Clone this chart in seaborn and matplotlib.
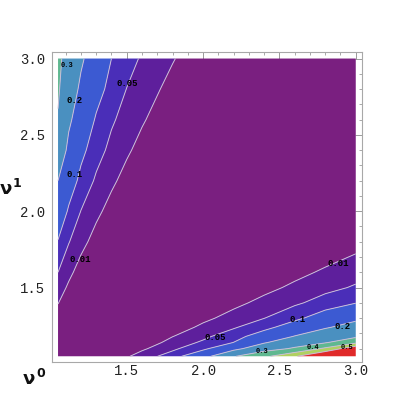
import numpy as np
import matplotlib
matplotlib.use("Agg")
import matplotlib.pyplot as plt
import seaborn as sns
from matplotlib.ticker import MultipleLocator, FormatStrFormatter

# grid of nu0 (columns) and nu1 (rows)
nu0 = [1.05, 1.12, 1.2, 1.3, 1.4, 1.5, 1.6, 1.8, 2.0, 2.2, 2.4, 2.6, 2.8, 3.0]
nu1 = [1.05, 1.10, 1.14, 1.18, 1.24, 1.30, 1.40, 1.50, 1.60, 1.80, 2.00, 2.20, 2.40, 2.60, 2.80, 3.00]

# values estimated from the contour picture (rows follow nu1)
z = [
    [-0.04, -0.04, -0.04, -0.04, -0.026, 0.005, 0.028, 0.071, 0.168, 0.293, 0.377, 0.487, 0.632, 0.700],
    [-0.04, -0.04, -0.04, -0.04, -0.04, -0.024, 0.003, 0.041, 0.084, 0.175, 0.259, 0.312, 0.418, 0.575],
    [-0.04, -0.04, -0.04, -0.04, -0.04, -0.04, -0.017, 0.025, 0.057, 0.101, 0.193, 0.254, 0.292, 0.380],
    [-0.04, -0.04, -0.04, -0.04, -0.04, -0.04, -0.037, 0.009, 0.040, 0.076, 0.136, 0.204, 0.252, 0.283],
    [-0.037, -0.04, -0.04, -0.04, -0.04, -0.04, -0.04, -0.015, 0.020, 0.045, 0.081, 0.135, 0.192, 0.233],
    [-0.015, -0.04, -0.04, -0.04, -0.04, -0.04, -0.04, -0.04, -0.001, 0.027, 0.049, 0.085, 0.134, 0.183],
    [0.012, -0.023, -0.04, -0.04, -0.04, -0.04, -0.04, -0.04, -0.035, -0.002, 0.023, 0.042, 0.069, 0.098],
    [0.034, 0.002, -0.034, -0.04, -0.04, -0.04, -0.04, -0.04, -0.04, -0.031, -0.003, 0.019, 0.037, 0.055],
    [0.050, 0.022, -0.010, -0.04, -0.04, -0.04, -0.04, -0.04, -0.04, -0.04, -0.028, -0.003, 0.017, 0.033],
    [0.096, 0.052, 0.025, -0.008, -0.04, -0.04, -0.04, -0.04, -0.04, -0.04, -0.04, -0.04, -0.025, -0.005],
    [0.156, 0.091, 0.049, 0.021, -0.007, -0.035, -0.04, -0.04, -0.04, -0.04, -0.04, -0.04, -0.04, -0.04],
    [0.200, 0.138, 0.083, 0.043, 0.019, -0.006, -0.030, -0.04, -0.04, -0.04, -0.04, -0.04, -0.04, -0.04],
    [0.270, 0.178, 0.117, 0.068, 0.038, 0.017, -0.005, -0.04, -0.04, -0.04, -0.04, -0.04, -0.04, -0.04],
    [0.295, 0.215, 0.155, 0.093, 0.056, 0.034, 0.015, -0.023, -0.04, -0.04, -0.04, -0.04, -0.04, -0.04],
    [0.309, 0.248, 0.185, 0.125, 0.080, 0.049, 0.031, -0.004, -0.038, -0.04, -0.04, -0.04, -0.04, -0.04],
    [0.317, 0.268, 0.212, 0.155, 0.100, 0.070, 0.044, 0.013, -0.019, -0.04, -0.04, -0.04, -0.04, -0.04],
]

levels = [0.01, 0.05, 0.1, 0.2, 0.3, 0.4, 0.5]
band_colors = ["#7A1F80", "#5E1F9C", "#4A2EB8", "#3C5AD2",
               "#4A90C0", "#5FB890", "#B0D060", "#E02A2A"]

# contour labels (text, nu0, nu1, small?)
label_text = ["0.3", "0.2", "0.1", "0.05", "0.01",
              "0.01", "0.05", "0.1", "0.2", "0.3", "0.4", "0.5"]
label_x = [1.11, 1.155, 1.161, 1.502, 1.194,
           2.885, 2.078, 2.62, 2.915, 2.386, 2.72, 2.94]
label_y = [2.955, 2.728, 2.243, 2.839, 1.687,
           1.659, 1.176, 1.288, 1.242, 1.079, 1.105, 1.105]
label_small = [True, False, False, False, False,
               False, False, False, False, True, True, True]

sns.set_theme(style="white")
plt.rcParams['font.family'] = ['Liberation Mono', 'DejaVu Sans']

fig = plt.figure(figsize=(4.15, 4.15), dpi=100)
fig.patch.set_facecolor("white")
ax = fig.add_axes([0.1255, 0.1272, 0.7472, 0.7472])
ax.set_facecolor("white")

Z = np.array(z)
bounds = [Z.min() - 1.0] + levels + [Z.max() + 1.0]
ax.contourf(nu0, nu1, Z, levels=bounds, colors=band_colors, antialiased=True)
ax.contour(nu0, nu1, Z, levels=levels, colors="#c9bcd8", linewidths=0.7)

for t, x, y, s in zip(label_text, label_x, label_y, label_small):
    ax.text(x, y, t, ha="center", va="center", color="black",
            fontsize=5.0 if s else 6.5, fontweight="bold",
            family=["Liberation Mono", "DejaVu Sans"])

ax.set_xlim(1.011, 3.042)
ax.set_ylim(1.011, 3.042)
ax.xaxis.set_major_locator(MultipleLocator(0.5))
ax.yaxis.set_major_locator(MultipleLocator(0.5))
ax.xaxis.set_minor_locator(MultipleLocator(0.1))
ax.yaxis.set_minor_locator(MultipleLocator(0.1))
ax.xaxis.set_major_formatter(FormatStrFormatter("%.1f"))
ax.yaxis.set_major_formatter(FormatStrFormatter("%.1f"))
ax.tick_params(which="both", direction="in", top=True, right=True,
               colors="#9a9a9a", labelcolor="#222222", labelsize=10)
ax.tick_params(which="major", length=5, width=0.7)
ax.tick_params(which="minor", length=2.5, width=0.6)
ax.tick_params(axis="x", which="major", pad=1.5)
ax.tick_params(axis="y", which="major", pad=5)
ax.tick_params(labeltop=False, labelright=False)
for sp in ax.spines.values():
    sp.set_color("#a8a8a8")
    sp.set_linewidth(0.8)

# axis titles: nu with superscript index
fig.text(29 / 415, 1 - 379 / 415, "ν", ha="center", va="center",
         fontsize=13, fontweight="bold", family="DejaVu Sans", color="#111111")
fig.text(40.5 / 415, 1 - 373 / 415, "0", ha="center", va="center",
         fontsize=9, fontweight="bold", family="DejaVu Sans", color="#111111")
fig.text(5.5 / 415, 1 - 189 / 415, "ν", ha="center", va="center",
         fontsize=13, fontweight="bold", family="DejaVu Sans", color="#111111")
fig.text(16.5 / 415, 1 - 183 / 415, "1", ha="center", va="center",
         fontsize=9, fontweight="bold", family="DejaVu Sans", color="#111111")

fig.savefig("out.png", dpi=100, facecolor="white")
